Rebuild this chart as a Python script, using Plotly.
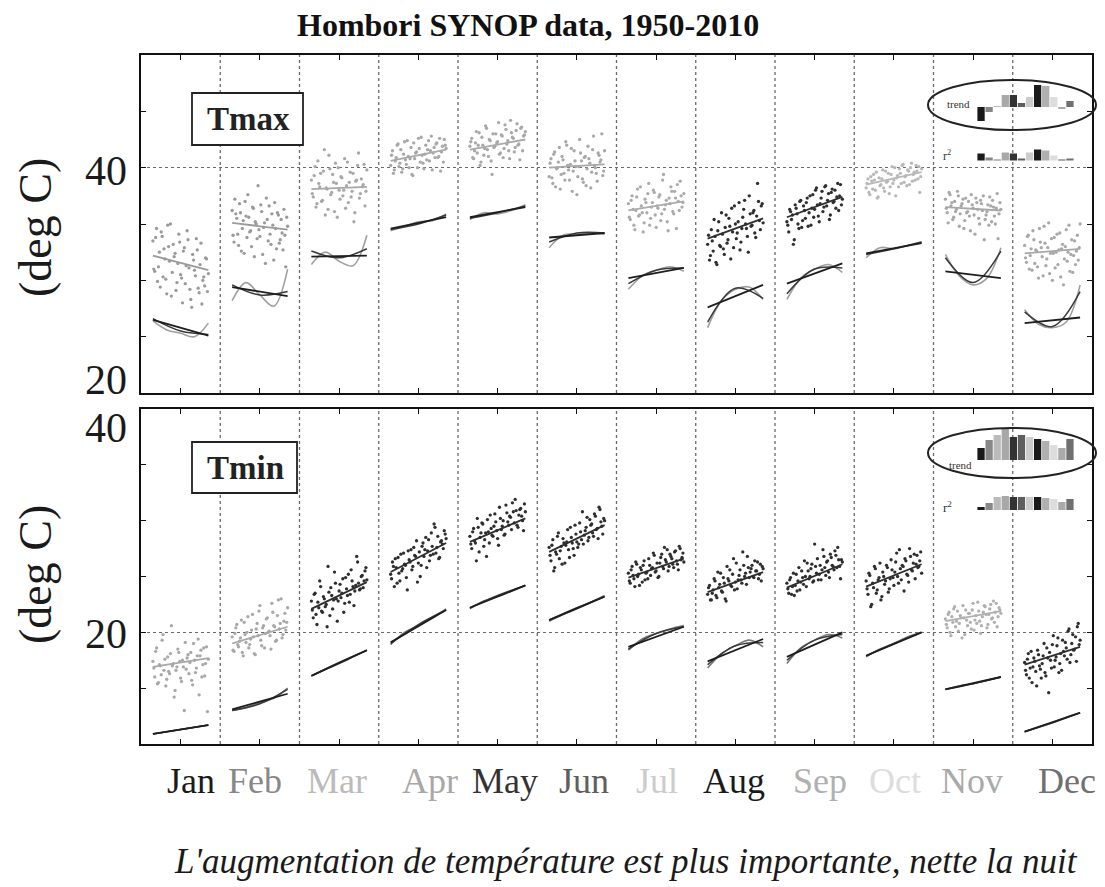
import plotly.graph_objects as go

W, H = 1105, 887
SERIF = "Liberation Serif"

months = ["Jan", "Feb", "Mar", "Apr", "May", "Jun", "Jul", "Aug", "Sep", "Oct", "Nov", "Dec"]
month_pos = list(range(1, 13))
years_even = list(range(1950, 2011, 2))
years_odd = list(range(1951, 2010, 2))

# ---- Tmax values (deg C): even years 1950..2010 ----
tmax_jan = [33.5, 30.8, 34.6, 31.2, 29.4, 33.9, 32.8, 30.1, 34.9, 31.7, 28.6, 33.2, 32.4, 29.8, 34.1, 30.5,
            28.0, 32.9, 31.3, 33.6, 29.2, 27.6, 31.8, 30.4, 32.7, 28.9, 33.3, 30.0, 29.5, 31.9, 30.6]
tmax_feb = [36.2, 33.4, 35.9, 34.1, 36.8, 32.6, 35.3, 37.0, 33.8, 35.6, 34.4, 36.5, 32.1, 35.0, 38.4, 33.9,
            36.1, 34.7, 31.5, 35.4, 36.6, 33.2, 34.9, 36.9, 32.8, 35.8, 33.6, 34.2, 36.3, 31.2, 34.8]
tmax_mar = [38.9, 37.4, 40.1, 36.8, 38.6, 39.5, 37.1, 41.6, 38.2, 36.3, 39.9, 37.8, 38.7, 40.4, 35.6, 38.0,
            39.2, 37.5, 40.8, 38.4, 36.9, 39.6, 37.9, 35.2, 38.8, 40.2, 37.3, 39.0, 38.5, 36.6, 39.8]
tmax_apr = [40.2, 41.5, 39.8, 40.9, 42.1, 40.4, 39.6, 41.2, 40.7, 42.4, 40.0, 41.8, 39.3, 40.8, 41.4, 42.6,
            40.5, 41.1, 39.9, 42.0, 41.6, 40.6, 42.8, 41.3, 40.9, 42.2, 41.0, 39.7, 41.9, 42.5, 41.7]
tmax_may = [41.9, 42.6, 40.8, 42.2, 41.3, 43.1, 40.5, 42.0, 41.7, 43.5, 41.0, 42.4, 39.4, 41.8, 43.0, 42.3,
            41.2, 42.9, 40.9, 43.8, 42.1, 41.5, 44.2, 42.7, 41.4, 43.3, 42.0, 40.7, 43.6, 42.8, 43.2]
tmax_jun = [39.2, 40.8, 38.6, 41.4, 39.9, 40.5, 38.1, 41.0, 39.5, 42.3, 40.2, 38.9, 41.7, 39.7, 40.6, 37.6,
            40.1, 41.3, 39.0, 40.9, 38.4, 41.9, 40.4, 39.6, 42.8, 40.0, 38.8, 41.1, 40.7, 39.3, 41.5]
tmax_jul = [36.8, 35.4, 37.5, 34.9, 36.2, 38.1, 35.8, 36.6, 34.3, 37.2, 36.0, 38.6, 35.5, 36.9, 37.8, 34.7,
            36.4, 37.6, 35.9, 39.4, 36.7, 35.2, 37.3, 38.3, 36.1, 37.9, 34.6, 37.0, 38.8, 36.5, 37.7]
tmax_aug = [33.2, 31.8, 34.5, 32.6, 33.9, 31.4, 35.2, 33.0, 34.1, 32.3, 35.8, 33.6, 34.8, 36.4, 32.9, 35.0,
            34.2, 36.9, 33.4, 35.6, 37.1, 34.6, 32.5, 35.9, 34.9, 36.2, 33.8, 38.6, 35.3, 36.6, 35.1]
tmax_sep = [35.2, 34.3, 36.1, 35.8, 33.6, 36.4, 35.0, 37.0, 34.7, 36.6, 35.5, 37.3, 36.0, 34.9, 37.6, 36.3,
            38.2, 35.7, 36.8, 37.9, 36.5, 38.4, 37.1, 35.4, 37.8, 36.9, 38.0, 37.4, 36.2, 38.5, 37.2]
tmax_oct = [38.2, 39.0, 37.6, 38.8, 39.4, 38.0, 37.3, 39.1, 38.5, 39.8, 37.9, 38.7, 39.5, 38.3, 40.1, 38.9,
            37.5, 39.3, 39.9, 38.6, 40.3, 39.2, 38.4, 39.7, 40.0, 38.8, 39.6, 40.2, 39.0, 37.8, 39.9]
tmax_nov = [37.2, 36.0, 37.8, 36.6, 35.4, 37.0, 36.3, 37.5, 35.9, 36.8, 34.6, 37.3, 36.1, 35.7, 37.6, 36.4,
            34.1, 36.9, 35.5, 37.1, 36.2, 33.6, 35.8, 36.7, 37.4, 35.2, 36.5, 35.0, 37.7, 35.9, 36.3]
tmax_dec = [33.1, 31.6, 34.0, 32.2, 30.9, 33.6, 32.7, 31.2, 34.6, 32.9, 30.4, 33.3, 31.9, 35.1, 32.4, 30.0,
            33.8, 32.5, 31.4, 34.2, 32.8, 29.6, 33.0, 31.7, 34.9, 32.3, 30.7, 33.5, 32.6, 31.8, 35.0]

# ---- Tmax values (deg C): odd years 1951..2009 ----
tmax_jan_odd = [31.0, 33.8, 29.9, 32.5, 34.3, 30.3, 31.9, 28.8, 33.0, 35.0, 30.7, 32.1, 29.1, 31.5, 33.4,
                30.2, 32.6, 29.7, 34.4, 31.1, 28.3, 32.3, 30.9, 33.7, 29.3, 31.4, 27.9, 30.3, 32.0, 29.0]
tmax_feb_odd = [34.0, 37.2, 35.5, 33.1, 36.0, 34.6, 32.4, 35.7, 37.6, 34.3, 33.0, 36.4, 35.2, 33.7, 34.5,
                36.7, 32.3, 35.1, 37.3, 33.5, 34.1, 35.9, 31.8, 34.6, 36.0, 33.3, 35.4, 32.7, 34.0, 35.6]
tmax_mar_odd = [37.7, 39.3, 36.5, 40.6, 38.3, 37.0, 39.7, 35.8, 38.1, 41.1, 37.6, 39.4, 36.1, 38.6, 40.0,
                37.2, 39.1, 38.0, 36.4, 40.5, 38.7, 37.4, 39.5, 36.0, 38.9, 41.3, 37.7, 38.3, 40.3, 37.9]
tmax_apr_odd = [41.1, 39.5, 40.6, 42.0, 40.1, 41.6, 39.9, 42.3, 40.3, 41.0, 40.8, 39.4, 42.2, 41.3, 40.0,
                41.7, 42.7, 40.4, 41.2, 40.7, 42.4, 41.5, 39.8, 41.8, 42.1, 40.9, 42.6, 41.4, 40.5, 42.0]
tmax_may_odd = [42.3, 40.9, 41.5, 43.2, 42.0, 40.2, 42.7, 41.1, 43.7, 41.6, 42.5, 40.6, 43.0, 41.9, 42.2,
                44.0, 41.3, 42.8, 41.7, 43.4, 42.4, 40.8, 43.1, 42.6, 41.8, 43.9, 42.1, 43.5, 41.5, 42.9]
tmax_jun_odd = [40.4, 39.1, 41.2, 38.3, 40.0, 41.8, 39.4, 40.7, 38.9, 42.0, 39.8, 40.3, 37.9, 41.5, 40.1,
                39.2, 42.5, 40.6, 38.7, 41.0, 39.9, 40.8, 38.2, 41.6, 40.2, 39.5, 41.3, 40.5, 43.0, 39.7]
tmax_jul_odd = [35.6, 37.1, 36.3, 34.5, 37.4, 35.7, 38.3, 36.0, 35.1, 36.9, 37.7, 34.9, 36.5, 38.0, 35.8,
                36.6, 37.4, 35.3, 38.9, 36.3, 37.1, 34.4, 36.8, 37.9, 35.9, 37.3, 38.5, 36.2, 37.5, 36.9]
tmax_aug_odd = [34.0, 32.2, 33.5, 35.4, 31.6, 34.4, 33.1, 36.0, 32.8, 34.7, 33.3, 35.5, 31.9, 34.3, 36.6,
                33.7, 35.2, 32.7, 34.6, 36.3, 35.0, 33.9, 37.5, 34.8, 36.0, 34.2, 35.7, 37.0, 34.5, 36.8]
tmax_sep_odd = [34.9, 36.3, 35.4, 33.2, 36.7, 35.9, 34.6, 37.1, 35.3, 36.2, 36.9, 34.8, 37.5, 36.4, 35.6,
                38.0, 36.7, 35.2, 37.3, 36.1, 38.3, 36.6, 37.7, 35.8, 38.1, 37.0, 36.4, 38.6, 37.5, 36.7]
tmax_oct_odd = [38.6, 37.8, 39.2, 38.1, 38.9, 39.6, 37.4, 38.4, 39.0, 38.2, 39.7, 38.8, 37.7, 39.4, 38.6,
                40.0, 39.1, 38.3, 39.5, 40.2, 38.7, 39.3, 39.8, 38.5, 40.4, 39.4, 38.9, 39.7, 40.1, 39.2]
tmax_nov_odd = [36.4, 35.1, 37.6, 36.9, 35.6, 36.1, 37.9, 34.8, 36.6, 37.2, 35.3, 36.0, 37.0, 34.4, 36.7,
                35.8, 37.3, 36.3, 35.0, 36.8, 37.5, 35.4, 36.1, 34.9, 36.6, 37.1, 35.7, 36.4, 33.7, 36.9]
tmax_dec_odd = [32.0, 33.9, 31.0, 32.8, 34.4, 31.5, 32.6, 30.2, 33.4, 32.1, 34.8, 31.3, 32.9, 30.6, 33.7,
                32.4, 31.1, 34.1, 32.7, 30.3, 33.2, 31.9, 34.5, 32.5, 30.8, 33.6, 32.2, 31.4, 34.0, 32.9]

# ---- Tmin values (deg C): even years 1950..2010 ----
tmin_jan = [17.4, 16.0, 18.6, 15.5, 17.0, 19.3, 16.6, 15.2, 17.8, 16.3, 20.6, 17.2, 14.8, 16.9, 18.2, 15.9,
            17.5, 13.0, 16.7, 18.0, 17.3, 15.7, 19.0, 16.4, 17.9, 14.4, 18.4, 17.1, 16.1, 18.7, 17.6]
tmin_feb = [19.6, 18.3, 20.4, 18.9, 19.2, 21.1, 17.9, 19.8, 20.0, 18.6, 19.4, 21.6, 18.1, 20.3, 19.7, 22.4,
            18.8, 20.6, 19.9, 21.3, 20.1, 18.5, 21.8, 20.5, 19.3, 22.9, 20.8, 19.5, 21.0, 20.2, 22.2]
tmin_mar = [22.8, 21.3, 23.5, 20.7, 22.2, 24.1, 21.8, 23.0, 22.5, 25.9, 21.5, 23.3, 22.9, 24.4, 21.0, 23.7,
            23.1, 24.8, 22.6, 23.9, 25.2, 23.4, 24.6, 22.4, 24.2, 26.3, 23.8, 25.0, 24.0, 25.5, 24.7]
tmin_apr = [25.2, 26.3, 24.1, 25.8, 26.7, 24.6, 25.5, 27.1, 26.0, 23.8, 26.5, 27.4, 25.9, 26.9, 28.2, 26.2,
            25.0, 27.7, 26.8, 28.5, 27.3, 26.4, 28.9, 27.0, 29.4, 27.6, 26.6, 28.1, 27.9, 29.1, 28.4]
tmin_may = [28.6, 27.5, 29.3, 28.0, 30.2, 27.2, 28.9, 29.7, 28.3, 26.8, 29.0, 30.5, 28.7, 29.5, 29.9, 28.4,
            31.2, 29.2, 30.0, 28.8, 30.7, 29.6, 30.3, 31.6, 29.8, 30.9, 29.4, 31.0, 30.4, 29.1, 30.8]
tmin_jun = [27.6, 26.4, 28.3, 25.8, 27.0, 28.9, 27.3, 26.1, 28.0, 27.8, 29.2, 26.7, 28.5, 27.5, 29.6, 28.1,
            27.9, 29.0, 30.8, 28.7, 29.4, 28.2, 30.1, 29.7, 28.6, 30.4, 29.3, 31.2, 29.9, 28.8, 30.0]
tmin_jul = [25.3, 24.4, 25.9, 24.8, 26.3, 25.0, 24.2, 25.6, 26.0, 24.7, 25.4, 26.6, 25.1, 25.8, 26.9, 25.5,
            24.9, 26.2, 27.0, 25.7, 26.5, 27.4, 25.9, 26.8, 26.1, 27.2, 26.4, 25.6, 27.5, 26.7, 26.3]
tmin_aug = [23.4, 24.2, 22.9, 23.8, 24.6, 23.1, 24.0, 25.3, 23.6, 24.4, 22.8, 24.8, 25.6, 24.1, 26.6, 24.5,
            23.9, 25.1, 24.7, 27.2, 25.0, 24.3, 25.8, 25.4, 26.0, 24.9, 25.5, 26.3, 25.2, 24.6, 25.7]
tmin_sep = [24.4, 23.5, 24.9, 24.1, 23.3, 25.2, 24.6, 23.8, 25.5, 24.3, 25.0, 26.2, 24.8, 25.7, 24.5, 27.9,
            25.3, 24.7, 26.0, 25.6, 26.8, 25.1, 26.4, 24.9, 26.7, 25.9, 27.3, 25.8, 26.5, 24.8, 26.3]
tmin_oct = [24.6, 23.4, 25.1, 22.5, 24.0, 25.7, 23.8, 24.9, 22.9, 25.4, 24.3, 26.0, 23.6, 24.8, 25.6, 24.2,
            26.3, 25.0, 27.4, 24.7, 25.9, 26.6, 25.2, 24.5, 26.8, 25.5, 27.0, 26.1, 25.8, 26.4, 25.3]
tmin_nov = [21.2, 20.4, 21.8, 19.7, 20.9, 22.3, 21.0, 20.1, 21.5, 19.5, 21.3, 22.0, 20.6, 21.7, 20.3, 22.6,
            21.1, 20.8, 21.9, 19.9, 21.4, 22.4, 21.6, 20.7, 22.1, 21.2, 22.8, 21.8, 20.5, 22.2, 21.7]
tmin_dec = [17.3, 16.2, 18.1, 16.8, 15.5, 17.7, 16.5, 18.4, 17.0, 15.9, 17.9, 16.4, 18.6, 14.6, 17.5, 18.9,
            16.9, 17.8, 19.5, 17.2, 16.6, 18.3, 19.1, 17.6, 20.3, 18.0, 19.8, 18.5, 17.4, 20.8, 19.3]

# ---- Tmin values (deg C): odd years 1951..2009 ----
tmin_jan_odd = [16.8, 18.3, 15.4, 17.1, 16.2, 19.8, 17.6, 15.8, 16.5, 18.1, 17.0, 14.2, 16.6, 18.5, 17.4,
                15.6, 16.9, 19.1, 17.7, 16.3, 18.2, 15.3, 17.5, 16.8, 19.4, 17.9, 16.0, 18.6, 17.2, 12.9]
tmin_feb_odd = [18.4, 19.9, 20.7, 18.7, 19.5, 18.2, 20.9, 19.1, 21.4, 18.9, 20.2, 19.6, 18.0, 20.8, 21.9,
                19.3, 20.4, 18.6, 21.2, 20.0, 19.7, 22.6, 20.6, 19.2, 21.5, 20.3, 23.0, 19.8, 21.7, 20.9]
tmin_mar_odd = [22.0, 23.4, 21.6, 22.7, 24.6, 21.9, 23.2, 22.3, 20.5, 23.6, 24.0, 22.1, 25.4, 23.0, 22.8,
                24.3, 23.5, 21.8, 24.9, 23.3, 22.7, 25.6, 24.1, 23.7, 26.8, 24.4, 23.9, 25.1, 24.6, 25.8]
tmin_apr_odd = [24.8, 25.9, 26.6, 24.4, 25.3, 27.0, 25.7, 26.1, 24.9, 27.3, 26.3, 25.6, 27.6, 26.8, 24.5,
                27.2, 26.0, 28.0, 27.4, 25.8, 28.3, 26.9, 27.7, 29.7, 27.1, 28.6, 26.7, 28.2, 27.5, 28.8]
tmin_may_odd = [27.9, 29.0, 28.2, 26.4, 29.4, 28.5, 29.8, 27.7, 28.9, 30.1, 28.0, 29.3, 28.6, 30.6, 29.1,
                27.8, 30.2, 29.5, 28.7, 31.4, 29.9, 30.4, 29.2, 30.8, 31.9, 29.6, 30.5, 31.1, 30.0, 31.5]
tmin_jun_odd = [26.9, 27.8, 25.5, 27.2, 28.6, 26.6, 27.7, 28.4, 26.2, 28.1, 27.4, 29.4, 28.0, 26.9, 28.8,
                27.6, 29.8, 28.3, 27.9, 29.1, 30.3, 28.5, 29.6, 28.9, 30.6, 29.2, 28.4, 31.0, 29.5, 30.2]
tmin_jul_odd = [24.6, 25.6, 25.1, 24.1, 26.1, 25.2, 25.8, 24.5, 26.4, 25.3, 24.8, 26.0, 25.7, 27.1, 25.4,
                26.2, 25.0, 26.7, 25.9, 27.6, 26.3, 25.5, 27.0, 26.6, 25.8, 27.3, 26.1, 27.7, 26.5, 27.1]
tmin_aug_odd = [24.0, 22.9, 23.5, 24.8, 23.3, 25.4, 24.3, 23.7, 24.9, 23.0, 25.9, 24.6, 24.2, 25.2, 23.8,
                26.2, 24.7, 25.6, 24.4, 26.0, 25.3, 26.8, 24.9, 25.7, 25.0, 26.4, 25.5, 24.8, 26.1, 25.9]
tmin_sep_odd = [23.9, 24.7, 23.4, 25.3, 24.2, 23.7, 25.8, 24.5, 24.9, 26.4, 24.1, 25.5, 25.0, 26.1, 24.6,
                25.9, 26.6, 25.2, 24.7, 27.4, 25.8, 26.3, 25.4, 27.0, 26.0, 25.6, 26.9, 27.6, 25.9, 26.5]
tmin_oct_odd = [23.9, 25.3, 22.3, 24.4, 25.9, 23.5, 24.7, 26.2, 23.2, 25.0, 24.6, 25.8, 23.9, 26.5, 24.9,
                25.4, 27.1, 24.4, 25.7, 26.0, 23.7, 26.4, 25.1, 27.5, 25.6, 26.2, 24.8, 26.9, 25.9, 27.2]
tmin_nov_odd = [20.7, 21.6, 20.0, 21.4, 22.1, 20.5, 21.9, 20.8, 21.3, 22.4, 19.8, 21.1, 21.7, 20.9, 22.0,
                20.2, 21.5, 22.7, 21.0, 20.6, 21.8, 22.3, 20.4, 21.6, 22.5, 21.3, 20.9, 22.6, 21.4, 22.0]
tmin_dec_odd = [16.6, 17.6, 15.9, 18.3, 16.9, 17.4, 15.2, 18.0, 16.7, 17.2, 19.0, 16.1, 17.7, 18.2, 16.8,
                19.7, 17.5, 18.8, 16.4, 18.1, 19.3, 17.9, 18.6, 20.1, 17.3, 19.0, 18.4, 19.6, 20.5, 18.9]

# ---- linear trends through each month's series (value at 1950 and 2010) ----
tmax_trend_start = [32.2, 35.1, 38.1, 40.6, 41.6, 40.0, 36.2, 33.7, 35.6, 38.5, 36.5, 32.4]
tmax_trend_end = [30.9, 34.5, 38.3, 41.6, 42.5, 40.3, 37.0, 35.5, 37.4, 39.6, 36.2, 32.8]
tmin_trend_start = [16.9, 19.0, 22.1, 25.4, 28.1, 27.2, 24.9, 23.6, 24.0, 24.1, 21.0, 17.1]
tmin_trend_end = [17.7, 20.5, 24.5, 28.0, 30.2, 29.6, 26.6, 25.4, 26.1, 26.1, 21.9, 18.7]

# ---- smoothed fits drawn below each cloud: linear, quadratic and higher-order ----
tmax_fit_lin_start = [26.5, 29.4, 32.1, 34.6, 35.6, 33.8, 30.2, 27.6, 29.7, 32.4, 30.8, 26.2]
tmax_fit_lin_end = [25.1, 28.6, 32.2, 35.6, 36.5, 34.2, 31.1, 29.6, 31.5, 33.3, 30.2, 26.7]
tmax_fit_quad = [[26.6, 25.5, 25.2], [29.6, 28.7, 29.0], [32.6, 32.0, 32.8], [34.5, 35.0, 35.8],
                 [35.5, 36.0, 36.6], [33.4, 34.2, 34.2], [29.7, 30.9, 31.1], [26.3, 29.3, 28.4],
                 [28.8, 31.0, 31.1], [32.3, 32.8, 33.4], [32.0, 29.8, 32.6], [27.2, 25.9, 29.0]]
tmax_fit_poly = [[26.4, 25.6, 25.3, 25.0, 26.2], [28.2, 29.8, 28.7, 27.7, 31.0], [31.4, 32.5, 31.7, 31.3, 34.0],
                 [34.4, 34.8, 35.2, 35.3, 35.9], [35.4, 36.0, 35.9, 36.2, 36.7], [32.9, 34.0, 34.1, 34.2, 34.1],
                 [29.2, 30.4, 30.9, 31.2, 30.8], [25.8, 28.2, 29.2, 29.4, 28.3], [28.3, 30.2, 31.0, 31.4, 30.7],
                 [32.0, 32.9, 32.8, 33.1, 33.4], [32.3, 30.4, 29.6, 30.2, 32.9], [27.4, 26.1, 25.8, 26.3, 29.6]]

tmin_fit_lin_start = [10.9, 13.1, 16.1, 19.1, 22.2, 21.1, 18.7, 17.4, 17.8, 17.9, 14.9, 11.1]
tmin_fit_lin_end = [11.7, 14.5, 18.4, 22.0, 24.2, 23.2, 20.5, 19.4, 20.0, 20.0, 16.0, 12.8]
tmin_fit_quad = [[10.9, 11.3, 11.7], [13.0, 13.6, 14.9], [16.1, 17.3, 18.4], [19.0, 20.7, 22.0],
                 [22.2, 23.3, 24.2], [21.1, 22.2, 23.2], [18.5, 19.9, 20.5], [17.1, 18.8, 19.1],
                 [17.5, 19.3, 19.8], [17.9, 19.0, 20.0], [14.9, 15.4, 16.0], [11.1, 11.9, 12.8]]
tmin_fit_poly = [[10.9, 11.1, 11.3, 11.5, 11.7], [13.0, 13.3, 13.7, 14.1, 15.0], [16.1, 16.7, 17.2, 17.8, 18.4],
                 [18.9, 20.0, 20.6, 21.3, 22.1], [22.1, 22.8, 23.2, 23.7, 24.2], [21.0, 21.6, 22.1, 22.7, 23.3],
                 [18.4, 19.4, 19.9, 20.3, 20.6], [16.8, 18.1, 18.8, 19.3, 18.7], [17.2, 18.6, 19.3, 19.8, 19.5],
                 [17.8, 18.5, 19.0, 19.6, 20.0], [14.9, 15.2, 15.4, 15.7, 16.0], [11.1, 11.5, 11.9, 12.4, 12.8]]

# ---- inset summaries: trend and r^2 per month ----
tmax_trend_bar = [-1.4, -0.5, 0.1, 1.2, 1.2, 0.4, 1.0, 2.2, 2.1, 1.0, -0.2, 0.6]
tmax_r2_bar = [0.35, 0.15, 0.03, 0.40, 0.35, 0.10, 0.40, 0.55, 0.50, 0.25, 0.05, 0.10]
tmin_trend_bar = [1.2, 2.0, 2.5, 3.2, 2.3, 2.5, 2.3, 2.1, 1.9, 1.5, 1.2, 2.1]
tmin_r2_bar = [0.15, 0.35, 0.65, 0.70, 0.65, 0.65, 0.65, 0.65, 0.60, 0.55, 0.40, 0.55]

# ---- styling ----
month_colors = ["#1a1a1a", "#888888", "#bbbbbb", "#a8a8a8", "#333333", "#5e5e5e",
                "#cccccc", "#1a1a1a", "#b0b0b0", "#dddddd", "#aaaaaa", "#707070"]
tmax_point_colors = ["#9a9a9a", "#9a9a9a", "#a8a8a8", "#a8a8a8", "#a8a8a8", "#a8a8a8",
                     "#ababab", "#2e2e2e", "#2e2e2e", "#b8b8b8", "#a8a8a8", "#a8a8a8"]
tmin_point_colors = ["#a8a8a8", "#a8a8a8", "#2e2e2e", "#2e2e2e", "#2e2e2e", "#2e2e2e",
                     "#2e2e2e", "#2e2e2e", "#2e2e2e", "#2e2e2e", "#b0b0b0", "#2e2e2e"]
month_label_shift = [10, -5, -2, 12, 7, 7, 1, -1, 5, 1, -1, 15]
HALF = 0.35  # half-width of a month column used by the 1950-2010 time axis


def px_x(p):
    return p / W


def px_y(p):
    return 1 - p / H


def year_to_x(m, yr):
    return m + (yr - 1980) / 30.0 * HALF


fig = go.Figure()


def add_panel(obs_even, obs_odd, t0, t1, lin0, lin1, quad, poly, pcolors, xa, ya, fit_dark, fit_light):
    for i, m in enumerate(month_pos):
        xq = [m - HALF, m, m + HALF]
        xp = [m - HALF, m - HALF / 2, m, m + HALF / 2, m + HALF]
        fig.add_trace(go.Scatter(x=xp, y=poly[i], mode="lines", line=dict(color=fit_light, width=1.6, shape="spline"),
                                 xaxis=xa, yaxis=ya, showlegend=False, hoverinfo="skip"))
        fig.add_trace(go.Scatter(x=xq, y=quad[i], mode="lines", line=dict(color=fit_dark, width=1.5, shape="spline"),
                                 xaxis=xa, yaxis=ya, showlegend=False, hoverinfo="skip"))
        fig.add_trace(go.Scatter(x=[m - HALF, m + HALF], y=[lin0[i], lin1[i]], mode="lines",
                                 line=dict(color="#1e1e1e", width=1.8),
                                 xaxis=xa, yaxis=ya, showlegend=False, hoverinfo="skip"))
        xs = [year_to_x(m, yr) for yr in years_even[:len(obs_even[i])]]
        xs += [year_to_x(m, yr) for yr in years_odd[:len(obs_odd[i])]]
        vals = list(obs_even[i]) + list(obs_odd[i])
        fig.add_trace(go.Scatter(x=xs, y=vals, mode="markers",
                                 marker=dict(size=3.3, color=pcolors[i], line=dict(width=0)),
                                 xaxis=xa, yaxis=ya, showlegend=False, hoverinfo="skip"))
        fig.add_trace(go.Scatter(x=[year_to_x(m, 1950), year_to_x(m, 2010)], y=[t0[i], t1[i]], mode="lines",
                                 line=dict(color=pcolors[i], width=1.8),
                                 xaxis=xa, yaxis=ya, showlegend=False, hoverinfo="skip"))


tmax_even = [tmax_jan, tmax_feb, tmax_mar, tmax_apr, tmax_may, tmax_jun,
             tmax_jul, tmax_aug, tmax_sep, tmax_oct, tmax_nov, tmax_dec]
tmax_odd = [tmax_jan_odd, tmax_feb_odd, tmax_mar_odd, tmax_apr_odd, tmax_may_odd, tmax_jun_odd,
            tmax_jul_odd, tmax_aug_odd, tmax_sep_odd, tmax_oct_odd, tmax_nov_odd, tmax_dec_odd]
tmin_even = [tmin_jan, tmin_feb, tmin_mar, tmin_apr, tmin_may, tmin_jun,
             tmin_jul, tmin_aug, tmin_sep, tmin_oct, tmin_nov, tmin_dec]
tmin_odd = [tmin_jan_odd, tmin_feb_odd, tmin_mar_odd, tmin_apr_odd, tmin_may_odd, tmin_jun_odd,
            tmin_jul_odd, tmin_aug_odd, tmin_sep_odd, tmin_oct_odd, tmin_nov_odd, tmin_dec_odd]

add_panel(tmax_even, tmax_odd, tmax_trend_start, tmax_trend_end, tmax_fit_lin_start, tmax_fit_lin_end,
          tmax_fit_quad, tmax_fit_poly, tmax_point_colors, "x", "y", "#3a3a3a", "#a0a0a0")
add_panel(tmin_even, tmin_odd, tmin_trend_start, tmin_trend_end, tmin_fit_lin_start, tmin_fit_lin_end,
          tmin_fit_quad, tmin_fit_poly, tmin_point_colors, "x2", "y2", "#3a3a3a", "#7a7a7a")

# inset bar summaries (trend row on top, r^2 row beneath)
# 1 axis unit = 10 px; r^2 drawn at 20 px per unit
inset_specs = [
    dict(xa="x3", ya="y3", trend=tmax_trend_bar, r2=tmax_r2_bar, r2_base=-5.35),
    dict(xa="x4", ya="y4", trend=tmin_trend_bar, r2=tmin_r2_bar, r2_base=-5.0),
]
for spec in inset_specs:
    fig.add_trace(go.Bar(x=month_pos, y=spec["trend"], width=0.9, marker=dict(color=month_colors, line=dict(width=0)),
                         xaxis=spec["xa"], yaxis=spec["ya"], showlegend=False, hoverinfo="skip"))
    fig.add_trace(go.Bar(x=month_pos, y=[v * 2 for v in spec["r2"]], base=spec["r2_base"], width=0.9,
                         marker=dict(color=month_colors, line=dict(width=0)),
                         xaxis=spec["xa"], yaxis=spec["ya"], showlegend=False, hoverinfo="skip"))

frame = dict(showline=True, linecolor="#111111", linewidth=1.5, mirror="ticks", zeroline=False,
             ticks="inside", ticklen=5, tickcolor="#111111", tickwidth=1)

xaxis_common = dict(frame, range=[0.5, 12.5], tickvals=month_pos, showticklabels=False, showgrid=False,
                    domain=[px_x(141), px_x(1092)])
yaxis_common = dict(frame, tickvals=[20, 40], showticklabels=False, showgrid=True, gridcolor="#6a6a6a",
                    griddash="dot", gridwidth=1.3,
                    minor=dict(dtick=5, ticks="inside", ticklen=5, tickcolor="#111111", showgrid=False))

fig.update_layout(
    width=W, height=H,
    margin=dict(l=0, r=0, t=0, b=0),
    paper_bgcolor="white", plot_bgcolor="rgba(0,0,0,0)",
    barmode="overlay",
    xaxis=dict(xaxis_common, anchor="y"),
    yaxis=dict(yaxis_common, anchor="x", range=[20, 50], domain=[px_y(393), px_y(55)]),
    xaxis2=dict(xaxis_common, anchor="y2"),
    yaxis2=dict(yaxis_common, anchor="x2", range=[10, 40], domain=[px_y(744), px_y(409)]),
    xaxis3=dict(visible=False, range=[0.5, 12.5], domain=[px_x(977), px_x(1074)], anchor="y3"),
    yaxis3=dict(visible=False, range=[-6.3, 3.2], domain=[px_y(170), px_y(75)], anchor="x3"),
    xaxis4=dict(visible=False, range=[0.5, 12.5], domain=[px_x(977), px_x(1074)], anchor="y4"),
    yaxis4=dict(visible=False, range=[-6.0, 4.0], domain=[px_y(520), px_y(420)], anchor="x4"),
    font=dict(family=SERIF, color="#111111"),
)

shapes = []
# month separators
for xref in ("x", "x2"):
    yref = "y domain" if xref == "x" else "y2 domain"
    for k in range(1, 12):
        b = k + 0.5
        shapes.append(dict(type="line", xref=xref, yref=yref, x0=b, x1=b, y0=0, y1=1,
                           line=dict(color="#6a6a6a", width=1.3, dash="dot"), layer="below"))
# label boxes
shapes.append(dict(type="rect", xref="paper", yref="paper", x0=px_x(192), x1=px_x(303), y0=px_y(145), y1=px_y(93),
                   line=dict(color="#222222", width=1.8), fillcolor="white"))
shapes.append(dict(type="rect", xref="paper", yref="paper", x0=px_x(192), x1=px_x(297), y0=px_y(493), y1=px_y(442),
                   line=dict(color="#222222", width=1.8), fillcolor="white"))
# ellipses around the trend rows
shapes.append(dict(type="circle", xref="paper", yref="paper", x0=px_x(928), x1=px_x(1096), y0=px_y(130), y1=px_y(80),
                   line=dict(color="#222222", width=2)))
shapes.append(dict(type="circle", xref="paper", yref="paper", x0=px_x(928), x1=px_x(1096), y0=px_y(478), y1=px_y(428),
                   line=dict(color="#222222", width=2)))
fig.update_layout(shapes=shapes)

ann = []
ann.append(dict(text="<b>Hombori SYNOP data, 1950-2010</b>", x=px_x(528), y=px_y(25), xref="paper", yref="paper",
                showarrow=False, font=dict(size=32, family=SERIF, color="#111111"), xanchor="center", yanchor="middle"))
ann.append(dict(text="<b>Tmax</b>", x=px_x(248), y=px_y(119), xref="paper", yref="paper", showarrow=False,
                font=dict(size=33, family=SERIF, color="#222222"), xanchor="center", yanchor="middle"))
ann.append(dict(text="<b>Tmin</b>", x=px_x(245), y=px_y(468), xref="paper", yref="paper", showarrow=False,
                font=dict(size=33, family=SERIF, color="#222222"), xanchor="center", yanchor="middle"))
# y-axis value labels
for yref, val, shift in (("y", 40, -3), ("y", 20, 13), ("y2", 40, -19), ("y2", 20, -2)):
    ann.append(dict(text=str(val), x=px_x(129), y=val, xref="paper", yref=yref, yshift=shift, showarrow=False,
                    font=dict(size=42, family=SERIF, color="#1a1a1a"), xanchor="right", yanchor="middle"))
for yc in (228, 575):
    ann.append(dict(text="(deg C)", x=px_x(35), y=px_y(yc), xref="paper", yref="paper", textangle=-90,
                    showarrow=False, font=dict(size=46, family=SERIF, color="#1a1a1a"),
                    xanchor="center", yanchor="middle"))
# month key (also the colour key of the inset bars)
for m, name, col, sh in zip(month_pos, months, month_colors, month_label_shift):
    ann.append(dict(text=name, x=m, y=px_y(781), xref="x2", yref="paper", xshift=sh, showarrow=False,
                    font=dict(size=36, family=SERIF, color=col), xanchor="center", yanchor="middle"))
# inset labels
ann.append(dict(text="trend", x=px_x(958), y=px_y(104), xref="paper", yref="paper", showarrow=False,
                font=dict(size=11, family=SERIF, color="#333333"), xanchor="center", yanchor="middle"))
ann.append(dict(text="r<sup>2</sup>", x=px_x(947), y=px_y(156), xref="paper", yref="paper", showarrow=False,
                font=dict(size=12, family=SERIF, color="#333333"), xanchor="center", yanchor="middle"))
ann.append(dict(text="trend", x=px_x(960), y=px_y(465), xref="paper", yref="paper", showarrow=False,
                font=dict(size=11, family=SERIF, color="#333333"), xanchor="center", yanchor="middle"))
ann.append(dict(text="r<sup>2</sup>", x=px_x(947), y=px_y(507), xref="paper", yref="paper", showarrow=False,
                font=dict(size=13, family=SERIF, color="#333333"), xanchor="center", yanchor="middle"))
# caption
ann.append(dict(text="<i>L'augmentation de température est plus importante, nette la nuit</i>", x=px_x(626),
                y=px_y(861), xref="paper", yref="paper", showarrow=False,
                font=dict(size=35, family=SERIF, color="#1a1a1a"), xanchor="center", yanchor="middle"))
fig.update_layout(annotations=ann)

fig.write_html("out.html")
